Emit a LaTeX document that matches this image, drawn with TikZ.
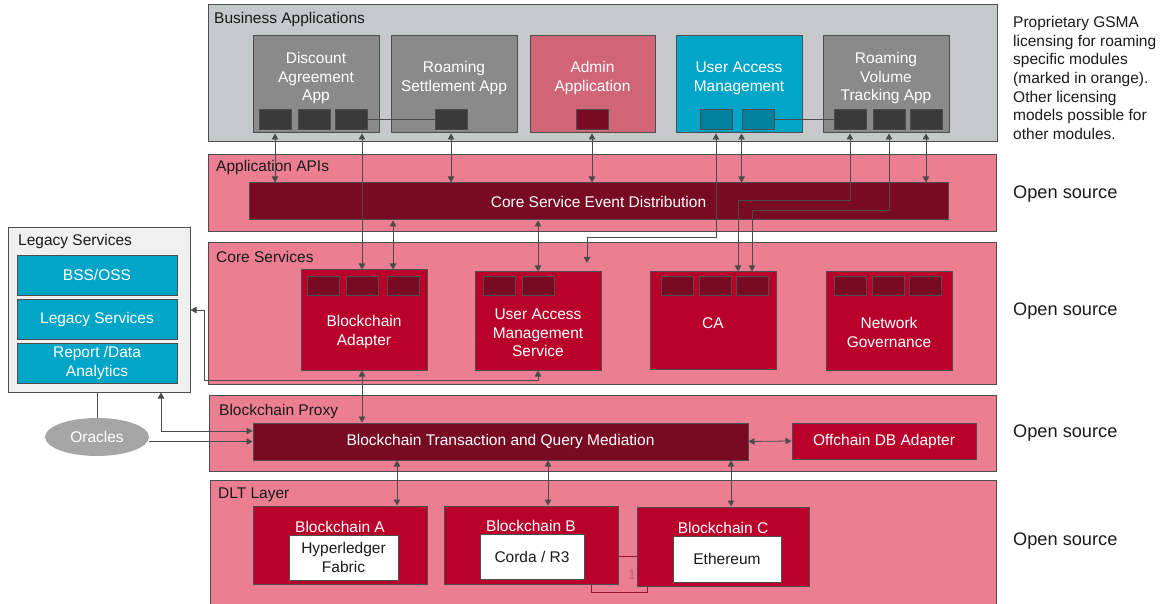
\documentclass[tikz,border=0pt]{standalone}
\usepackage{fontspec}
\setmainfont{Liberation Sans}
\usetikzlibrary{arrows.meta, shapes.geometric}
\definecolor{cBizBg}{RGB}{197,201,201}
\definecolor{cAppGray}{RGB}{138,138,138}
\definecolor{cPortDk}{RGB}{58,58,58}
\definecolor{cAdmin}{RGB}{208,101,119}
\definecolor{cMaroon}{RGB}{120,10,34}
\definecolor{cCyan}{RGB}{0,165,200}
\definecolor{cTeal}{RGB}{0,128,154}
\definecolor{cPink}{RGB}{236,126,145}
\definecolor{cRed}{RGB}{184,0,42}
\definecolor{cLegBg}{RGB}{240,240,240}
\definecolor{cOracle}{RGB}{166,166,166}
\definecolor{cEdge}{RGB}{77,77,77}
\definecolor{cLine}{RGB}{75,75,75}
\definecolor{cLink}{RGB}{150,20,50}
\definecolor{cMark}{RGB}{200,96,120}
\definecolor{cText}{RGB}{26,26,26}
\newcommand{\diagfont}{\fontsize{15.5}{18.7}\selectfont}
\newcommand{\notefont}{\fontsize{18.2}{21}\selectfont}
\newcommand{\markfont}{\fontsize{14}{16}\selectfont}

\begin{document}
\begin{tikzpicture}[x=1pt, y=-1pt, font=\diagfont, >={Triangle[length=6pt,width=6.5pt]},
    lay/.style={rectangle, draw=cEdge, line width=1pt, fill=cPink, inner sep=0pt},
    app/.style={rectangle, draw=cEdge, line width=1pt, inner sep=0pt, minimum width=126pt, minimum height=97pt},
    port/.style={rectangle, draw=cEdge, line width=0.8pt, inner sep=0pt, minimum width=32pt, minimum height=20pt},
    svc/.style={rectangle, draw=cEdge, line width=1pt, fill=cRed, inner sep=0pt, minimum width=126pt, minimum height=98pt},
    cport/.style={port, fill=cMaroon, minimum height=19pt},
    txt/.style={text=white, align=center, inner sep=0pt, yshift=-2pt},
    ttl/.style={anchor=base west, inner sep=0pt, text=cText, yshift=-6pt},
    leg/.style={rectangle, draw=cEdge, line width=0.8pt, fill=cCyan, text=white, align=center, inner sep=0pt, minimum width=160pt, minimum height=40pt},
    chain/.style={rectangle, draw=cEdge, line width=1pt, fill=cRed, inner sep=0pt, minimum width=174pt, minimum height=78pt},
    impl/.style={rectangle, draw=cEdge, line width=0.8pt, fill=white, text=cText, align=center, inner sep=0pt, minimum width=108pt, minimum height=45pt},
    note/.style={anchor=west, inner sep=0pt, text=cText, font=\notefont, yshift=-2pt},
    conn/.style={draw=cLine, line width=0.8pt},
    link/.style={draw=cLink, line width=1pt}]
  \useasboundingbox (0,0) rectangle (1163,604);

  % Business Applications
  \node[lay, fill=cBizBg, minimum width=789pt, minimum height=137pt] (biz) at (602.5,73.5) {};
  \node[ttl] (bizT) at (214,18) {Business Applications};
  \node[app, fill=cAppGray] (daa) at (316,84.5) {};
  \node[txt] (daaT) at (316,76) {Discount\\Agreement\\App};
  \node[port, fill=cPortDk] (daaP1) at (275,119) {};
  \node[port, fill=cPortDk] (daaP2) at (314,119) {};
  \node[port, fill=cPortDk] (daaP3) at (351,119) {};
  \node[app, fill=cAppGray] (rsa) at (454,84.5) {};
  \node[txt] (rsaT) at (454,76) {Roaming\\Settlement App};
  \node[port, fill=cPortDk] (rsaP) at (451,119) {};
  \node[app, fill=cAdmin, minimum width=125pt] (admin) at (592.5,84.5) {};
  \node[txt] (adminT) at (592.5,76) {Admin\\Application};
  \node[port, fill=cMaroon] (adminP) at (592,119) {};
  \node[app, fill=cCyan] (uam) at (739,84.5) {};
  \node[txt] (uamT) at (739,76) {User Access\\Management};
  \node[port, fill=cTeal] (uamP1) at (716,119) {};
  \node[port, fill=cTeal] (uamP2) at (758,119) {};
  \node[app, fill=cAppGray] (rvta) at (886,84.5) {};
  \node[txt] (rvtaT) at (886,76) {Roaming\\Volume\\Tracking App};
  \node[port, fill=cPortDk] (rvtaP1) at (850,119) {};
  \node[port, fill=cPortDk] (rvtaP2) at (889,119) {};
  \node[port, fill=cPortDk] (rvtaP3) at (926,119) {};

  % Application APIs
  \node[lay, minimum width=788pt, minimum height=77pt] (api) at (602,193.5) {};
  \node[ttl] (apiT) at (216,166) {Application APIs};
  \node[rectangle, draw=cEdge, line width=1pt, fill=cMaroon, text=white, inner sep=0pt,
        minimum width=699pt, minimum height=37pt] (csed) at (598.5,201.5) {Core Service Event Distribution};

  % Core Services
  \node[lay, minimum width=788pt, minimum height=141pt] (core) at (602,313.5) {};
  \node[ttl] (coreT) at (216,257) {Core Services};
  \node[svc, minimum height=100pt] (ba) at (364,320) {};
  \node[txt] (baT) at (364,330) {Blockchain\\Adapter};
  \node[cport] (baP1) at (323,285.5) {};
  \node[cport] (baP2) at (362,285.5) {};
  \node[cport] (baP3) at (403,285.5) {};
  \node[svc] (uams) at (538,321) {};
  \node[txt] (uamsT) at (538,331) {User Access\\Management\\Service};
  \node[cport] (uamsP1) at (499,285.5) {};
  \node[cport] (uamsP2) at (538,285.5) {};
  \node[svc, minimum height=97pt] (ca) at (713,320.5) {};
  \node[txt] (caT) at (713,321) {CA};
  \node[cport] (caP1) at (677,285.5) {};
  \node[cport] (caP2) at (715,285.5) {};
  \node[cport] (caP3) at (752.5,285.5) {};
  \node[svc] (ng) at (889,321) {};
  \node[txt] (ngT) at (889,330.5) {Network\\Governance};
  \node[cport] (ngP1) at (850.5,285.5) {};
  \node[cport] (ngP2) at (888,285.5) {};
  \node[cport] (ngP3) at (925.5,285.5) {};

  % Blockchain Proxy
  \node[lay, minimum width=787pt, minimum height=76pt] (proxy) at (602.5,433) {};
  \node[ttl] (proxyT) at (219,409) {Blockchain Proxy};
  \node[rectangle, draw=cEdge, line width=1pt, fill=cMaroon, text=white, inner sep=0pt,
        minimum width=495pt, minimum height=37pt] (btqm) at (500.5,441.5) {Blockchain Transaction and Query Mediation};
  \node[rectangle, draw=cEdge, line width=1pt, fill=cRed, text=white, inner sep=0pt,
        minimum width=184pt, minimum height=36pt] (offchain) at (884,441) {Offchain DB Adapter};

  % DLT Layer
  \node[lay, minimum width=786pt, minimum height=130pt] (dlt) at (603,545) {};
  \node[ttl] (dltT) at (218,492) {DLT Layer};
  \node[chain] (bcA) at (340,545) {};
  \node[txt] (bcAT) at (340,525) {Blockchain A};
  \node[impl, minimum width=109pt] (fabric) at (343.5,557.5) {Hyperledger\\Fabric};
  \node[chain] (bcB) at (531,545) {};
  \node[txt] (bcBT) at (531,524) {Blockchain B};
  \node[impl, minimum width=104pt] (corda) at (532,556.5) {Corda / R3};
  \node[chain, minimum width=172pt, minimum height=79pt] (bcC) at (723,546.5) {};
  \node[txt] (bcCT) at (723,526) {Blockchain C};
  \node[impl, minimum height=46pt] (eth) at (727,559) {Ethereum};

  % Legacy Services
  \node[rectangle, draw=cEdge, line width=1pt, fill=cLegBg, inner sep=0pt,
        minimum width=182pt, minimum height=164pt] (legacy) at (99,310) {};
  \node[ttl] (legacyT) at (18,240) {Legacy Services};
  \node[leg] (bss) at (97,275) {BSS/OSS};
  \node[leg] (legSvc) at (97,319) {Legacy Services};
  \node[leg] (report) at (97,363) {Report /Data\\Analytics};
  \node[ellipse, fill=cOracle, text=white, inner sep=0pt, minimum width=104pt, minimum height=38pt] (oracles) at (97,437) {Oracles};

  % licensing notes
  \node[anchor=north west, align=left, inner sep=0pt, text=cText] (lic) at (1013,16)
    {Proprietary GSMA\\licensing for roaming\\specific modules\\(marked in orange).\\Other licensing\\models possible for\\other modules.};
  \node[note] (osApi) at (1013,192) {Open source};
  \node[note] (osCore) at (1013,309) {Open source};
  \node[note] (osProxy) at (1013,431) {Open source};
  \node[note] (osDlt) at (1013,539) {Open source};

  % bends and free ends
  \coordinate (uamBend) at (587,237);
  \coordinate (uamEnd) at (587,263);
  \coordinate (rvBendA) at (738,200);
  \coordinate (rvBendB) at (752,210);
  \coordinate (baIn) at (393,0);
  \coordinate (legTurn) at (204,380);
  \coordinate (legIn) at (161,431);
  \coordinate (chainA) at (397,0);
  \coordinate (chainB) at (548,0);
  \coordinate (chainC) at (731,0);
  \coordinate (brL) at (591,592);
  \coordinate (brR) at (647,592);

  % apps <-> APIs
  \draw[conn] (daaP3.east) -- (rsaP.west);
  \draw[conn] (uamP2.east) -- (rvtaP1.west);
  \draw[conn, <->] (daa.south -| daaP1) -- (csed.north -| daaP1);
  \draw[conn, <->] (daa.south -| baP2) -- (ba.north -| baP2);
  \draw[conn, <->] (rsa.south -| rsaP) -- (csed.north -| rsaP);
  \draw[conn, <->] (admin.south -| adminP) -- (csed.north -| adminP);
  \draw[conn, <->] (uam.south -| uamP1) |- (uamBend) -- (uamEnd);
  \draw[conn, <->] (uam.south -| uamP2.west) -- (csed.north -| uamP2.west);
  \draw[conn, <->] (rvta.south -| rvtaP1) |- (rvBendA) -- (ca.north -| rvBendA);
  \draw[conn, <->] (rvta.south -| rvtaP2) |- (rvBendB) -- (ca.north -| rvBendB);
  \draw[conn, <->] (rvta.south -| rvtaP3) -- (csed.north -| rvtaP3);

  % APIs <-> core
  \draw[conn, <->] (csed.south -| baIn) -- (ba.north -| baIn);
  \draw[conn, <->] (csed.south -| uamsP2) -- (uams.north -| uamsP2);

  % legacy side
  \draw[conn, <->] (uams.south -| uamsP2) |- (legTurn) |- (legacy.east);
  \draw[conn, <->] (legacy.south -| legIn) |- (btqm.west |- legIn);
  \draw[conn] (oracles.north) -- (legacy.south -| oracles.north);
  \draw[conn, ->] (oracles.east |- btqm.west) -- (btqm.west);

  % core <-> proxy <-> DLT
  \draw[conn, <->] (ba.south -| baP2) -- (btqm.north -| baP2);
  \draw[conn, <->] (btqm.east) -- (offchain.west);
  \draw[conn, <->] (btqm.south -| chainA) -- (bcA.north -| chainA);
  \draw[conn, <->] (btqm.south -| chainB) -- (bcB.north -| chainB);
  \draw[conn, <->] (btqm.south -| chainC) -- (bcC.north -| chainC);

  % B -- C link
  \draw[link] (bcB.east |- corda) -- (bcC.west |- corda);
  \draw[link] (bcB.south -| brL) |- (brR) -- (bcC.south -| brR);
  \node[text=cMark, font=\markfont, inner sep=0pt] (mult) at (632,575) {1};
\end{tikzpicture}
\end{document}
